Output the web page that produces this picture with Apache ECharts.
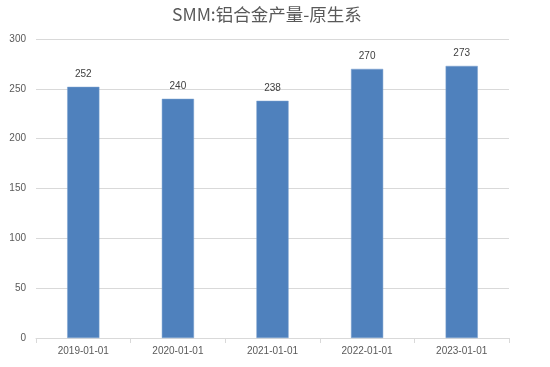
<!DOCTYPE html>
<html><head><meta charset="utf-8">
<script src="https://cdn.jsdelivr.net/npm/echarts@6/dist/echarts.min.js"></script>
<style>html,body{margin:0;padding:0;background:#fff}#c{width:550px;height:367px}</style>
</head><body><div id="c"></div>
<script>
var categories = ['2019-01-01','2020-01-01','2021-01-01','2022-01-01','2023-01-01'];
var values = [252, 240, 238, 270, 273];
var chart = echarts.init(document.getElementById('c'));
chart.setOption({
  animation: false,
  title: {text: 'SMM:铝合金产量-原生系', left: 167, top: 1,
    textStyle: {fontFamily: 'Noto Sans CJK SC', fontSize: 17.5, fontWeight: 'normal', color: '#595959'}},
  grid: {left: 36, right: 41, top: 39, bottom: 29},
  xAxis: {type: 'category', data: categories,
    axisLine: {lineStyle: {color: '#d9d9d9'}},
    axisTick: {show: true, alignWithLabel: false, length: 5, lineStyle: {color: '#d9d9d9'}},
    axisLabel: {color: '#595959', fontSize: 10, fontFamily: 'Liberation Sans', margin: 8}},
  yAxis: {type: 'value', min: 0, max: 300, interval: 50,
    axisLine: {show: false}, axisTick: {show: false},
    splitLine: {lineStyle: {color: '#d9d9d9'}},
    axisLabel: {color: '#595959', fontSize: 10, fontFamily: 'Liberation Sans', margin: 10}},
  series: [{type: 'bar', data: values, barWidth: '34%',
    itemStyle: {color: '#4f81bd', borderColor: '#7ba0cf', borderWidth: 0.5},
    label: {show: true, position: 'top', color: '#404040', fontSize: 10, fontFamily: 'Liberation Sans', distance: 8}}]
});
</script></body></html>
